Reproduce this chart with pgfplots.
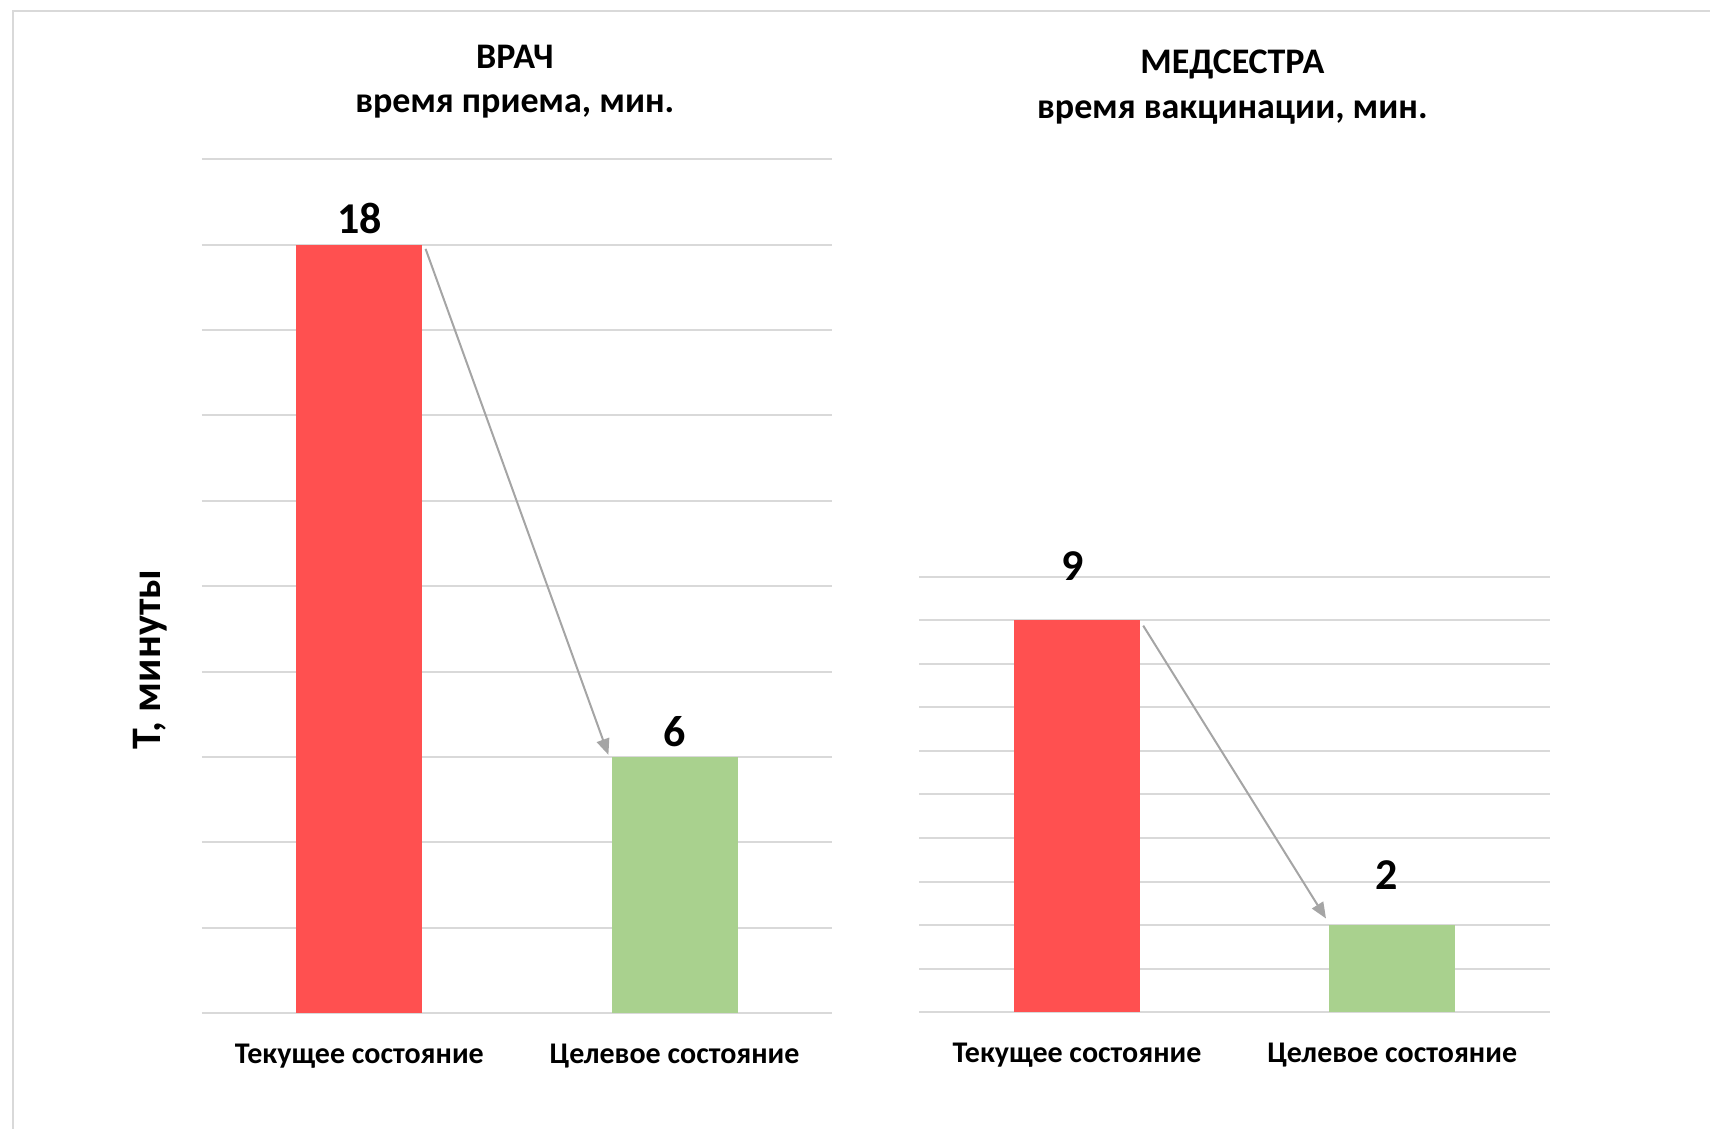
\documentclass[border=0pt]{standalone}
\usepackage{fontspec}
\setmainfont{Carlito}
\usepackage{pgfplots}
\pgfplotsset{compat=1.18}
\usetikzlibrary{arrows.meta}
\definecolor{barred}{HTML}{FF5050}
\definecolor{bargreen}{HTML}{A9D18E}
\definecolor{gridc}{HTML}{D9D9D9}
\definecolor{arrc}{HTML}{A5A5A5}
\definecolor{framec}{HTML}{D9D9D9}
\pgfplotsset{
  mystyle/.style={
    scale only axis,
    width=315.2pt,
    xmin=-0.5, xmax=1.5, ymin=0,
    axis line style={draw=none},
    tick style={draw=none},
    major tick length=0pt,
    ymajorgrids,
    grid style={gridc, line width=1pt},
    yticklabels={},
    xtick={0,1},
    xticklabels={Текущее состояние, Целевое состояние},
    xticklabel style={font=\fontsize{15}{18}\selectfont\bfseries, yshift=-11.7pt},
    clip=false,
  },
  barstyle/.style={ybar, bar shift=0pt, bar width=0.4, draw=none,
    nodes near coords={\pgfmathprintnumber[assume math mode=true]{\pgfplotspointmeta}},
    every node near coord/.append style={font=\fontsize{22}{26}\selectfont\bfseries, text=black, anchor=center, inner sep=0pt}},
  arrstyle/.style={arrc, line width=1pt, -{Triangle[length=8pt,width=6.5pt]}, no marks},
}
\begin{document}
\begin{tikzpicture}
\useasboundingbox (0,0) rectangle (855pt,564.5pt);
\draw[framec, line width=0.6pt] (6.5pt,0) -- (6.5pt,559pt) -- (855pt,559pt);
% left axis
\begin{axis}[mystyle, at={(100.9pt,57.9pt)}, anchor=south west,
  height=427pt, ymax=20, ytick={0,2,...,20}]
\addplot[barstyle, fill=barred, every node near coord/.append style={yshift=13pt}] coordinates {(0,18)};
\addplot[barstyle, fill=bargreen, every node near coord/.append style={yshift=12.5pt}] coordinates {(1,6)};
\addplot[arrstyle] coordinates {(0.21,17.9) (0.79,6.05)};
\end{axis}
% right axis
\begin{axis}[mystyle, at={(459.7pt,58.45pt)}, anchor=south west,
  height=217.6pt, ymax=10, ytick={0,1,...,10}]
\addplot[barstyle, fill=barred, every node near coord/.append style={yshift=27pt, xshift=-2pt}] coordinates {(0,9)};
\addplot[barstyle, fill=bargreen, every node near coord/.append style={yshift=25pt, xshift=-3pt}] coordinates {(1,2)};
\addplot[arrstyle] coordinates {(0.21,8.88) (0.79,2.15)};
\end{axis}
% titles
\node[font=\fontsize{18}{21}\selectfont\bfseries] at (257.4pt,536.1pt) {ВРАЧ};
\node[font=\fontsize{18}{21}\selectfont\bfseries] at (257.4pt,511.3pt) {время приема, мин.};
\node[font=\fontsize{18}{21}\selectfont\bfseries] at (616.2pt,532.2pt) {МЕДСЕСТРА};
\node[font=\fontsize{18}{21}\selectfont\bfseries] at (616.2pt,508.1pt) {время вакцинации, мин.};
% y label
\node[rotate=90, font=\fontsize{21}{25}\selectfont\bfseries] at (75.3pt,234.6pt) {Т, минуты};
\end{tikzpicture}
\end{document}
